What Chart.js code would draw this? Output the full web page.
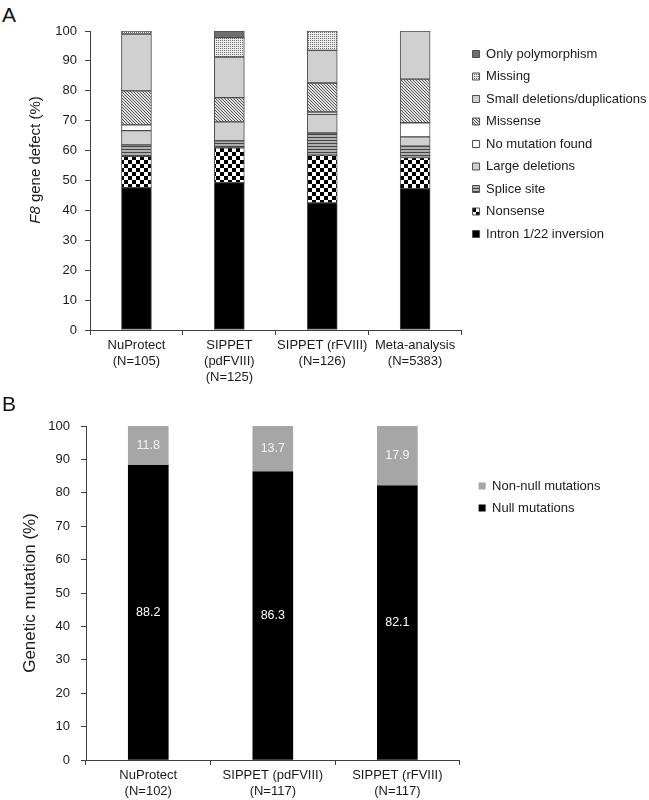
<!DOCTYPE html>
<html>
<head>
<meta charset="utf-8">
<script src="https://cdn.jsdelivr.net/npm/chart.js@4.4.0/dist/chart.umd.min.js"></script>
<style>
  body { margin: 0; background: #fff; }
  .panel { position: absolute; left: 0; width: 649px; }
  .letter { position: absolute; left: 2px; font: 21px/1 'Liberation Sans', Arial, sans-serif; color: #111; }
</style>
</head>
<body>
<div class="letter" style="top:4px">A</div>
<div class="panel" style="top:0; height:395px"><canvas id="chartA"></canvas></div>
<div class="letter" style="top:393px">B</div>
<div class="panel" style="top:395px; height:405px"><canvas id="chartB"></canvas></div>
<script>
// panel A: F8 gene defect by study (%)
const categoriesA = [['NuProtect', '(N=105)'], ['SIPPET', '(pdFVIII)', '(N=125)'], ['SIPPET (rFVIII)', '(N=126)'], ['Meta-analysis', '(N=5383)']]
const intron = [47.6, 49.3, 42.5, 47.3]
const nonsense = [10.5, 11.6, 16.0, 10.4]
const splice = [3.8, 2.4, 7.4, 3.8]
const largeDel = [4.8, 6.3, 6.2, 3.1]
const noMutation = [1.9, 0, 0.8, 4.7]
const missense = [11.4, 8.1, 9.7, 14.6]
const smallDel = [19.0, 13.6, 10.9, 16.1]
const missing = [1.0, 6.5, 6.5, 0]
const polymorphism = [0, 2.2, 0, 0]

// panel B: null vs non-null mutations (%)
const categoriesB = [['NuProtect', '(N=102)'], ['SIPPET (pdFVIII)', '(N=117)'], ['SIPPET (rFVIII)', '(N=117)']]
const nullMut = [88.2, 86.3, 82.1]
const nonNullMut = [11.8, 13.7, 17.9]

const yMin = 0
const yMax = 100
const yStep = 10

Chart.defaults.font.family = "'Liberation Sans', Arial, sans-serif"
Chart.defaults.font.size = 13
Chart.defaults.color = '#1a1a1a'

const AXIS = '#404040'
const EDGE = '#4d4d4d'

function makePattern(size, bg, paint) {
  const c = document.createElement('canvas')
  c.width = size
  c.height = size
  const g = c.getContext('2d')
  g.fillStyle = bg
  g.fillRect(0, 0, size, size)
  paint(g)
  return document.createElement('canvas').getContext('2d').createPattern(c, 'repeat')
}

const checker = makePattern(8, '#fff', g => {
  g.fillStyle = '#000'
  g.fillRect(0, 0, 4, 4)
  g.fillRect(4, 4, 4, 4)
})
const hLines = makePattern(3, '#b0b0b0', g => {
  g.fillStyle = '#444'
  g.fillRect(0, 2, 3, 1)
})
const hatch = makePattern(3, '#e2e2e2', g => {
  g.fillStyle = '#555'
  for (let i = 0; i < 3; i++) g.fillRect(i, i, 1, 1)
})
const dots = makePattern(2, '#ececec', g => {
  g.fillStyle = '#707070'
  g.fillRect(0, 0, 1, 1)
})

// moves the built-in legend after layout
const legendShift = {
  id: 'legendShift',
  afterLayout(chart, args, opts) {
    const lg = chart.legend
    if (!lg) return
    lg.left += opts.dx; lg.right += opts.dx
    lg.top += opts.dy; lg.bottom += opts.dy
  }
}

// rotated y title, parts may be italic
const yTitle = {
  id: 'yTitle',
  afterDraw(chart, args, opts) {
    const { ctx } = chart
    const fam = Chart.defaults.font.family
    ctx.save()
    ctx.translate(opts.x, opts.y)
    ctx.rotate(-Math.PI / 2)
    ctx.fillStyle = '#1a1a1a'
    ctx.textBaseline = 'middle'
    let total = 0
    const widths = opts.parts.map(p => {
      ctx.font = (p.italic ? 'italic ' : '') + opts.size + 'px ' + fam
      const w = ctx.measureText(p.text).width
      total += w
      return w
    })
    let x = -total / 2
    opts.parts.forEach((p, i) => {
      ctx.font = (p.italic ? 'italic ' : '') + opts.size + 'px ' + fam
      ctx.fillText(p.text, x, 0)
      x += widths[i]
    })
    ctx.restore()
  }
}

// values written in the middle of each segment
const segLabels = {
  id: 'segLabels',
  afterDatasetsDraw(chart) {
    const { ctx } = chart
    ctx.save()
    ctx.font = '12.5px ' + Chart.defaults.font.family
    ctx.textAlign = 'center'
    ctx.textBaseline = 'middle'
    chart.data.datasets.forEach((ds, i) => {
      chart.getDatasetMeta(i).data.forEach((bar, j) => {
        ctx.fillStyle = ds.labelColor
        ctx.fillText(ds.data[j].toFixed(1), bar.x, (bar.y + bar.base) / 2)
      })
    })
    ctx.restore()
  }
}

function axes(yWidth, xHeight, yPad) {
  return {
    x: {
      stacked: true,
      afterFit: s => { s.height = xHeight },
      grid: { drawOnChartArea: false, tickLength: 5, color: AXIS, offset: true },
      border: { color: AXIS },
      ticks: { color: '#1a1a1a', padding: 3, maxRotation: 0, minRotation: 0, autoSkip: false, font: { size: 13 } }
    },
    y: {
      stacked: true,
      min: yMin,
      max: yMax,
      afterFit: s => { s.width = yWidth },
      grid: { drawOnChartArea: false, tickLength: 5, color: AXIS },
      border: { color: AXIS },
      ticks: { stepSize: yStep, color: '#1a1a1a', padding: yPad, font: { size: 13 } }
    }
  }
}

function segA(label, data, color) {
  return {
    label, data,
    backgroundColor: color,
    borderColor: EDGE,
    borderWidth: 1,
    borderSkipped: false,
    barThickness: 30
  }
}

new Chart(document.getElementById('chartA'), {
  type: 'bar',
  data: {
    labels: categoriesA,
    datasets: [
      segA('Intron 1/22 inversion', intron, '#000'),
      segA('Nonsense', nonsense, checker),
      segA('Splice site', splice, hLines),
      segA('Large deletions', largeDel, '#d0d0d0'),
      segA('No mutation found', noMutation, '#fff'),
      segA('Missense', missense, hatch),
      segA('Small deletions/duplications', smallDel, '#d0d0d0'),
      segA('Missing', missing, dots),
      segA('Only polymorphism', polymorphism, '#6e6e6e')
    ]
  },
  options: {
    responsive: true,
    maintainAspectRatio: false,
    animation: false,
    layout: { padding: { top: 31, right: -6, bottom: 0, left: 0 } },
    scales: axes(90, 65, 8),
    plugins: {
      tooltip: { enabled: false },
      legend: {
        position: 'right',
        align: 'start',
        reverse: true,
        maxWidth: 240,
        labels: { boxWidth: 7, boxHeight: 7, padding: 9.5, color: '#1a1a1a', font: { size: 13 } }
      },
      legendShift: { dx: 1.5, dy: 7 },
      yTitle: { x: 36, y: 160, size: 15, parts: [{ text: 'F8', italic: true }, { text: ' gene defect (%)' }] }
    }
  },
  plugins: [legendShift, yTitle]
})

new Chart(document.getElementById('chartB'), {
  type: 'bar',
  data: {
    labels: categoriesB,
    datasets: [
      { label: 'Null mutations', data: nullMut, backgroundColor: '#000', labelColor: '#fff', barThickness: 40 },
      { label: 'Non-null mutations', data: nonNullMut, backgroundColor: '#a6a6a6', labelColor: '#f4f4f4', barThickness: 40 }
    ]
  },
  options: {
    responsive: true,
    maintainAspectRatio: false,
    animation: false,
    layout: { padding: { top: 31, right: 48.5, bottom: 0, left: 0 } },
    scales: axes(86, 40, 11),
    plugins: {
      tooltip: { enabled: false },
      legend: {
        position: 'right',
        align: 'start',
        reverse: true,
        maxWidth: 240,
        labels: { boxWidth: 7, boxHeight: 7, padding: 9, color: '#1a1a1a', font: { size: 13 } }
      },
      legendShift: { dx: 10, dy: 44.5 },
      yTitle: { x: 30, y: 198, size: 17, parts: [{ text: 'Genetic mutation (%)' }] }
    }
  },
  plugins: [legendShift, yTitle, segLabels]
})
</script>
</body>
</html>
